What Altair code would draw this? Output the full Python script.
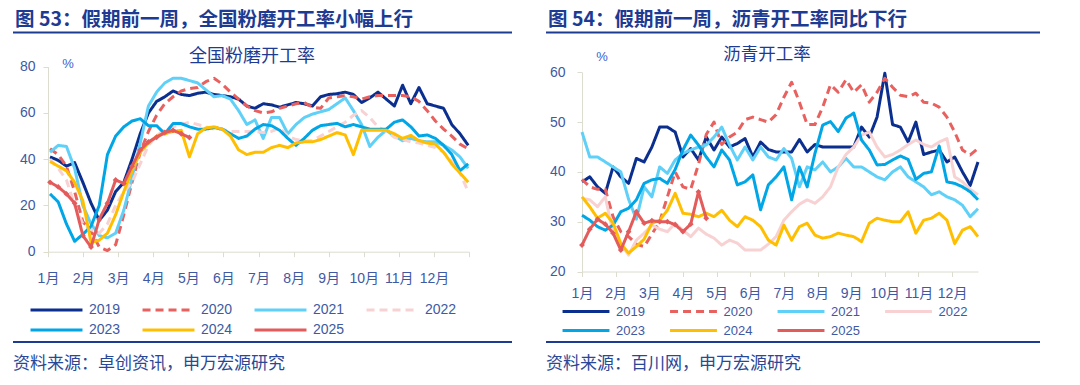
import json
import altair as alt
import pandas as pd

YEARS = ["2019", "2020", "2021", "2022", "2023", "2024", "2025"]
COLORS = ["#0b2f8f", "#e8615f", "#5fd0f7", "#f8d2d2", "#00a6e6", "#ffbf00", "#e45b5b"]
MONTHS = ["1月", "2月", "3月", "4月", "5月", "6月", "7月", "8月", "9月", "10月", "11月", "12月"]

# ---- left panel: 全国粉磨开工率 (weekly, %) ----
L2019 = [41, 39.5, 37, 38.5, 30, 21, 13.5, 18, 26, 30, 40, 51, 60, 65, 67, 69.5, 68, 67.5, 68.5, 69,
         68, 67.5, 67, 66, 63, 62, 64, 63.5, 62.5, 63.5, 64.5, 64, 63, 67, 68, 68.3, 69, 68, 64.5, 66.5,
         69, 66, 63, 72, 64, 71, 64, 63, 62, 55, 51, 46]
L2020 = [44.5, 42, 37, 26, 13, 9, 2, 0.5, 3, 16, 30, 43, 52, 59, 64, 67, 69.5, 70.5, 71, 73.5,
         75, 72.5, 69, 66, 63, 61, 60, 60.5, 62, 63, 64, 64.5, 62.5, 62, 66.5, 67, 67.5, 67, 66, 67,
         67.5, 67.5, 67.5, 67.5, 67, 65, 61, 56.5, 53, 50, 46.5, 44.5]
L2021 = [43, 46, 45.5, 36, 20, 12, 7, 6, 8, 18, 32, 47, 63, 69, 73, 75, 75, 74, 73, 70,
         67, 67.5, 66, 61, 55, 57, 49, 58, 58, 51, 55, 58, 59.5, 60.5, 61.5, 64, 66.5, 61, 55, 45.5,
         49.5, 52.5, 50, 48, 49, 48, 47.5, 47.5, 46, 44, 41, 36]
L2022 = [40, 36, 31, 20, 12, 9.5, 8, 12, 20, 26, 30, 38, 46, 50, 53, 54, 55, 56, 55, 54,
         53, 53, 52, 52, 52, 52, 51.5, 52, 53.5, 50, 48.5, 48, 48, 50, 52, 54, 56, 59, 61, 58,
         54, 52, 49.5, 48.5, 47.5, 47, 46, 45, 43, 39, 34, 26]
L2023 = [25, 21.5, 12, 4.5, 7.5, 11, 20, 42, 50, 54, 56.5, 57.5, 54.5, 54.5, 51, 55.4, 55.4, 54, 53, 53,
         53.7, 53, 51, 49, 50, 53, 55, 54.5, 52.5, 49, 46, 49, 52.5, 54.5, 55, 55.5, 54, 55, 54, 53,
         53, 53, 56, 57, 54, 50, 50.5, 49, 46, 42, 35, 38]
L2024 = [39, 37, 35, 30, 22, 4, 5, 8, 16, 26, 35, 43, 47, 50, 51, 52, 52.5, 41, 51, 53.5,
         54, 53, 50, 44, 42, 43, 43, 45, 46, 45, 47, 47.5, 47.5, 48.5, 50, 51.5, 50.5, 42, 52.5, 52.5,
         52.5, 52.5, 51, 49, 50.3, 48, 47, 46.5, 43, 38, 34, 30]
L2025 = [30, 28, 25, 21, 7, 2, 14, 21, 31, 29.5, 37, 44, 47.5, 49.5, 51.6, 52.5, 51, 49.4]

# ---- right panel: 沥青开工率 (weekly, %) ----
R2019 = [38, 39, 37, 35.7, 41, 39, 37.7, 42.7, 42, 45, 49, 49, 48, 43, 44.7, 42.4, 47, 44.4, 47, 45,
         45.7, 46.7, 43, 46, 44.5, 44, 44, 44, 46.5, 44, 45.5, 45, 45, 45, 45, 45, 49, 47, 51, 59.8,
         49.5, 49, 46, 50, 43.5, 44, 44.4, 42, 43, 40, 37.3, 42]
R2020 = [38.5, 37, 36.5, 36.5, 31, 28, 27, 25.5, 25, 27.5, 30, 35, 40, 37, 36.5, 41.5, 47.5, 50, 45.5, 47,
         48, 50.5, 51, 50.5, 50, 51.5, 55, 58, 54, 49.5, 49.5, 53, 57.5, 56, 58.5, 56, 57.5, 54, 56, 58.8,
         57, 55.4, 55.1, 55.8, 54, 53.8, 53, 51, 48, 44.4, 43.4, 44.7]
R2021 = [48, 43, 43, 42, 41, 40, 34.5, 30.5, 37, 35, 41, 39.7, 42.4, 43.7, 44.4, 45, 45.4, 47, 49, 45.4,
         42.4, 45, 42.4, 45, 43, 42.4, 44.7, 42.7, 37, 41, 40.4, 42, 40, 41, 42.7, 41, 41, 40, 39, 38.4,
         40, 41, 39, 38, 37, 35.4, 36, 35, 34.4, 33.3, 31, 32.6]
R2022 = [34.7, 34.4, 33, 35, 27.7, 25.5, 23.3, 26.3, 27.7, 29.3, 28.5, 28, 29.7, 28.3, 27, 28.7, 27.5, 26.7, 25.3, 26.3,
         25.7, 24.3, 24.3, 24.3, 25.5, 27, 30.3, 32, 33.5, 34.4, 33.7, 35, 37, 41, 43.5, 45, 47.4, 48, 45, 43,
         43.5, 44.4, 45.5, 46.4, 45.5, 45, 46, 46.7, 39, 38, 36.5, 35.4]
R2023 = [31.3, 30.3, 29, 28.3, 29.3, 32, 32.7, 34.4, 37.7, 38.4, 38.7, 37.7, 40.5, 44.4, 47.4, 45.4, 43, 41, 44.4, 42.4,
         37.4, 38, 39.4, 32.4, 37.4, 39, 41, 34.4, 41, 37, 43.7, 49.4, 50.1, 48.1, 50.8, 51.8, 46.4, 44.4, 41.4, 41.5,
         42.4, 43.2, 42.5, 38.5, 39.7, 40, 45.2, 38, 37.7, 37, 36, 34.4]
R2024 = [35, 33, 30.7, 31.7, 29.7, 25.6, 23.7, 25, 26.5, 29.7, 30.3, 32.3, 35.7, 31.7, 31.5, 31, 31.7, 31, 32.3, 30.3,
         29, 31, 30.3, 29, 26.3, 25.3, 29.3, 26.3, 29, 29.7, 27.3, 26.7, 27, 27.7, 27.3, 27, 26, 29.7, 30.7, 30.3,
         30, 30, 32, 27.7, 30.3, 30.7, 31.7, 30.3, 25.6, 28.3, 29, 27]
R2025 = [25.3, 28.5, 30.5, 29.5, 27.7, 24.3, 28, 32, 29.7, 30.2, 30, 30, 29.4, 28, 29.5, 36, 30.7]

L_TITLE = "图 53：假期前一周，全国粉磨开工率小幅上行"
L_SUB = "全国粉磨开工率"
L_SRC = "资料来源：卓创资讯，申万宏源研究"
R_TITLE = "图 54：假期前一周，沥青开工率同比下行"
R_SUB = "沥青开工率"
R_SRC = "资料来源：百川网，申万宏源研究"

FONT_CJK = "Noto Sans CJK SC"
FONT_LAT = "Liberation Sans, Noto Sans CJK SC"
C_TITLE = "#1d3b92"
C_TEXT = "#2a4898"
C_LABEL = "#4059a3"
C_AXIS = "#dcdccf"


def long_df(series):
    rows = []
    for yr, vals in zip(YEARS, series):
        for i, v in enumerate(vals):
            rows.append({"week": i + 1, "value": v, "year": yr})
    return pd.DataFrame(rows)


def text_layer(txt, x, y, size, color, weight="normal", align="left", font=FONT_CJK):
    return alt.Chart(pd.DataFrame({"t": [txt]})).mark_text(
        align=align, baseline="middle", fontSize=size, fontWeight=weight, color=color, font=font
    ).encode(text="t:N", x=alt.value(x), y=alt.value(y))


def hrule(x1, x2, y, color, w):
    return alt.Chart(pd.DataFrame({"a": [0]})).mark_rule(color=color, strokeWidth=w).encode(
        x=alt.value(x1), x2=alt.value(x2), y=alt.value(y))


def make_panel(series, p):
    df = long_df(series)
    pts = df[df["year"] == "2025"]
    xs = alt.Scale(domain=p["xdom"], range=p["xrng"], nice=False, zero=False)
    ys = alt.Scale(domain=p["ydom"], range=p["yrng"], nice=False, zero=False)
    common = dict(domainColor=C_AXIS, tickColor=C_AXIS, tickSize=5, grid=False, labelColor=C_LABEL,
                  labelFont=FONT_LAT, labelFontSize=14, title=None)
    labels = json.dumps(p["xlabels"], ensure_ascii=False)
    xaxis = alt.Axis(values=p["xticks"], offset=p["xoff"], labelPadding=p["xlp"], labelFlush=False,
                     labelOverlap=False,
                     labelExpr=f"{labels}[round((datum.value - {p['xdom'][0]}) / {p['step']})]", **common)
    yaxis = alt.Axis(values=p["yticks"], offset=p["yoff"], labelPadding=p["ylp"], **common)
    legend = alt.Legend(orient="none", legendX=p["lx"], legendY=p["ly"], columns=4, direction="horizontal",
                        title=None, symbolType="stroke", symbolSize=p["symsize"], symbolStrokeWidth=4,
                        clipHeight=p["rowh"], rowPadding=0, columnPadding=p["colpad"], padding=0,
                        labelFontSize=p["lfs"], labelColor=C_LABEL, labelFont=FONT_LAT, labelOffset=5)
    x = alt.X("week:Q", scale=xs, axis=xaxis)
    y = alt.Y("value:Q", scale=ys, axis=yaxis)
    lines = alt.Chart(df).mark_line(strokeJoin="round").encode(
        x=x, y=y,
        color=alt.Color("year:N", scale=alt.Scale(domain=YEARS, range=COLORS), legend=legend),
        strokeDash=alt.StrokeDash("year:N", scale=alt.Scale(domain=YEARS, range=p["dashes"]), legend=legend),
        strokeWidth=alt.StrokeWidth("year:N", scale=alt.Scale(domain=YEARS, range=[3, 3, 3, 3, 3, 3, 4]),
                                    legend=None),
    )
    points = alt.Chart(pts).mark_point(shape="diamond", filled=True, size=34, opacity=1,
                                       color=COLORS[6]).encode(x=x, y=y)
    layers = [
        lines, points,
        text_layer(p["title"], p["tx"], 11.5, 19.5, C_TITLE, weight="bold"),
        hrule(p["rx1"], p["rx2"], 24.5, C_TITLE, 2),
        text_layer(p["sub"], p["subx"], p["suby"], p["subfs"], C_TITLE, align="center"),
        text_layer("%", p["px"], p["py"], 13, "#3b5fd0", align="center", font=FONT_LAT),
        hrule(p["rx1"], p["rx2"], 334, C_TITLE, 2),
        text_layer(p["src"], p["tx"] - 2, 355.5, 17, C_TEXT),
    ]
    return alt.layer(*layers).properties(width=532, height=369)


L_STEP = (52.1 - 0.75) / 12
left_p = dict(
    xdom=[0.75, 52.1], xrng=[40, 461], ydom=[0, 80], yrng=[243.7, 58.7],
    xticks=[0.75 + k * L_STEP for k in range(13)], step=L_STEP, xlabels=MONTHS + [""],
    xoff=-125.3, xlp=15, yticks=[0, 20, 40, 60, 80], yoff=-40, ylp=8,
    lx=21, ly=292, symsize=2700, rowh=20, colpad=20, lfs=14,
    dashes=[[1, 0], [8, 5], [1, 0], [8, 5], [1, 0], [1, 0], [1, 0]],
    title=L_TITLE, tx=7, rx1=5, rx2=504, sub=L_SUB, subx=244, suby=48.5, subfs=18,
    px=60, py=56, src=L_SRC,
)
R_STEP = 4.333
right_p = dict(
    xdom=[1, 52], xrng=[42, 438], ydom=[20, 60], yrng=[263.5, 64.3],
    xticks=[1 + k * R_STEP for k in range(12)], step=R_STEP, xlabels=MONTHS,
    xoff=-105.5, xlp=10, yticks=[20, 30, 40, 50, 60], yoff=-42, ylp=12,
    lx=21, ly=294, symsize=2200, rowh=19, colpad=23.5, lfs=13,
    dashes=[[1, 0], [8, 5], [1, 0], [1, 0], [1, 0], [1, 0], [1, 0]],
    title=R_TITLE, tx=8, rx1=6, rx2=500, sub=R_SUB, subx=227, suby=47, subfs=17.5,
    px=62, py=49, src=R_SRC,
)

left = make_panel([L2019, L2020, L2021, L2022, L2023, L2024, L2025], left_p)
right = make_panel([R2019, R2020, R2021, R2022, R2023, R2024, R2025], right_p)

chart = alt.hconcat(left, right, spacing=0, padding=0).resolve_scale(
    x="independent", y="independent", color="independent", strokeDash="independent",
    strokeWidth="independent"
).resolve_legend(color="independent", strokeDash="independent").configure_view(stroke=None)

chart.save("out.html", embed_options={"renderer": "svg", "actions": False})
